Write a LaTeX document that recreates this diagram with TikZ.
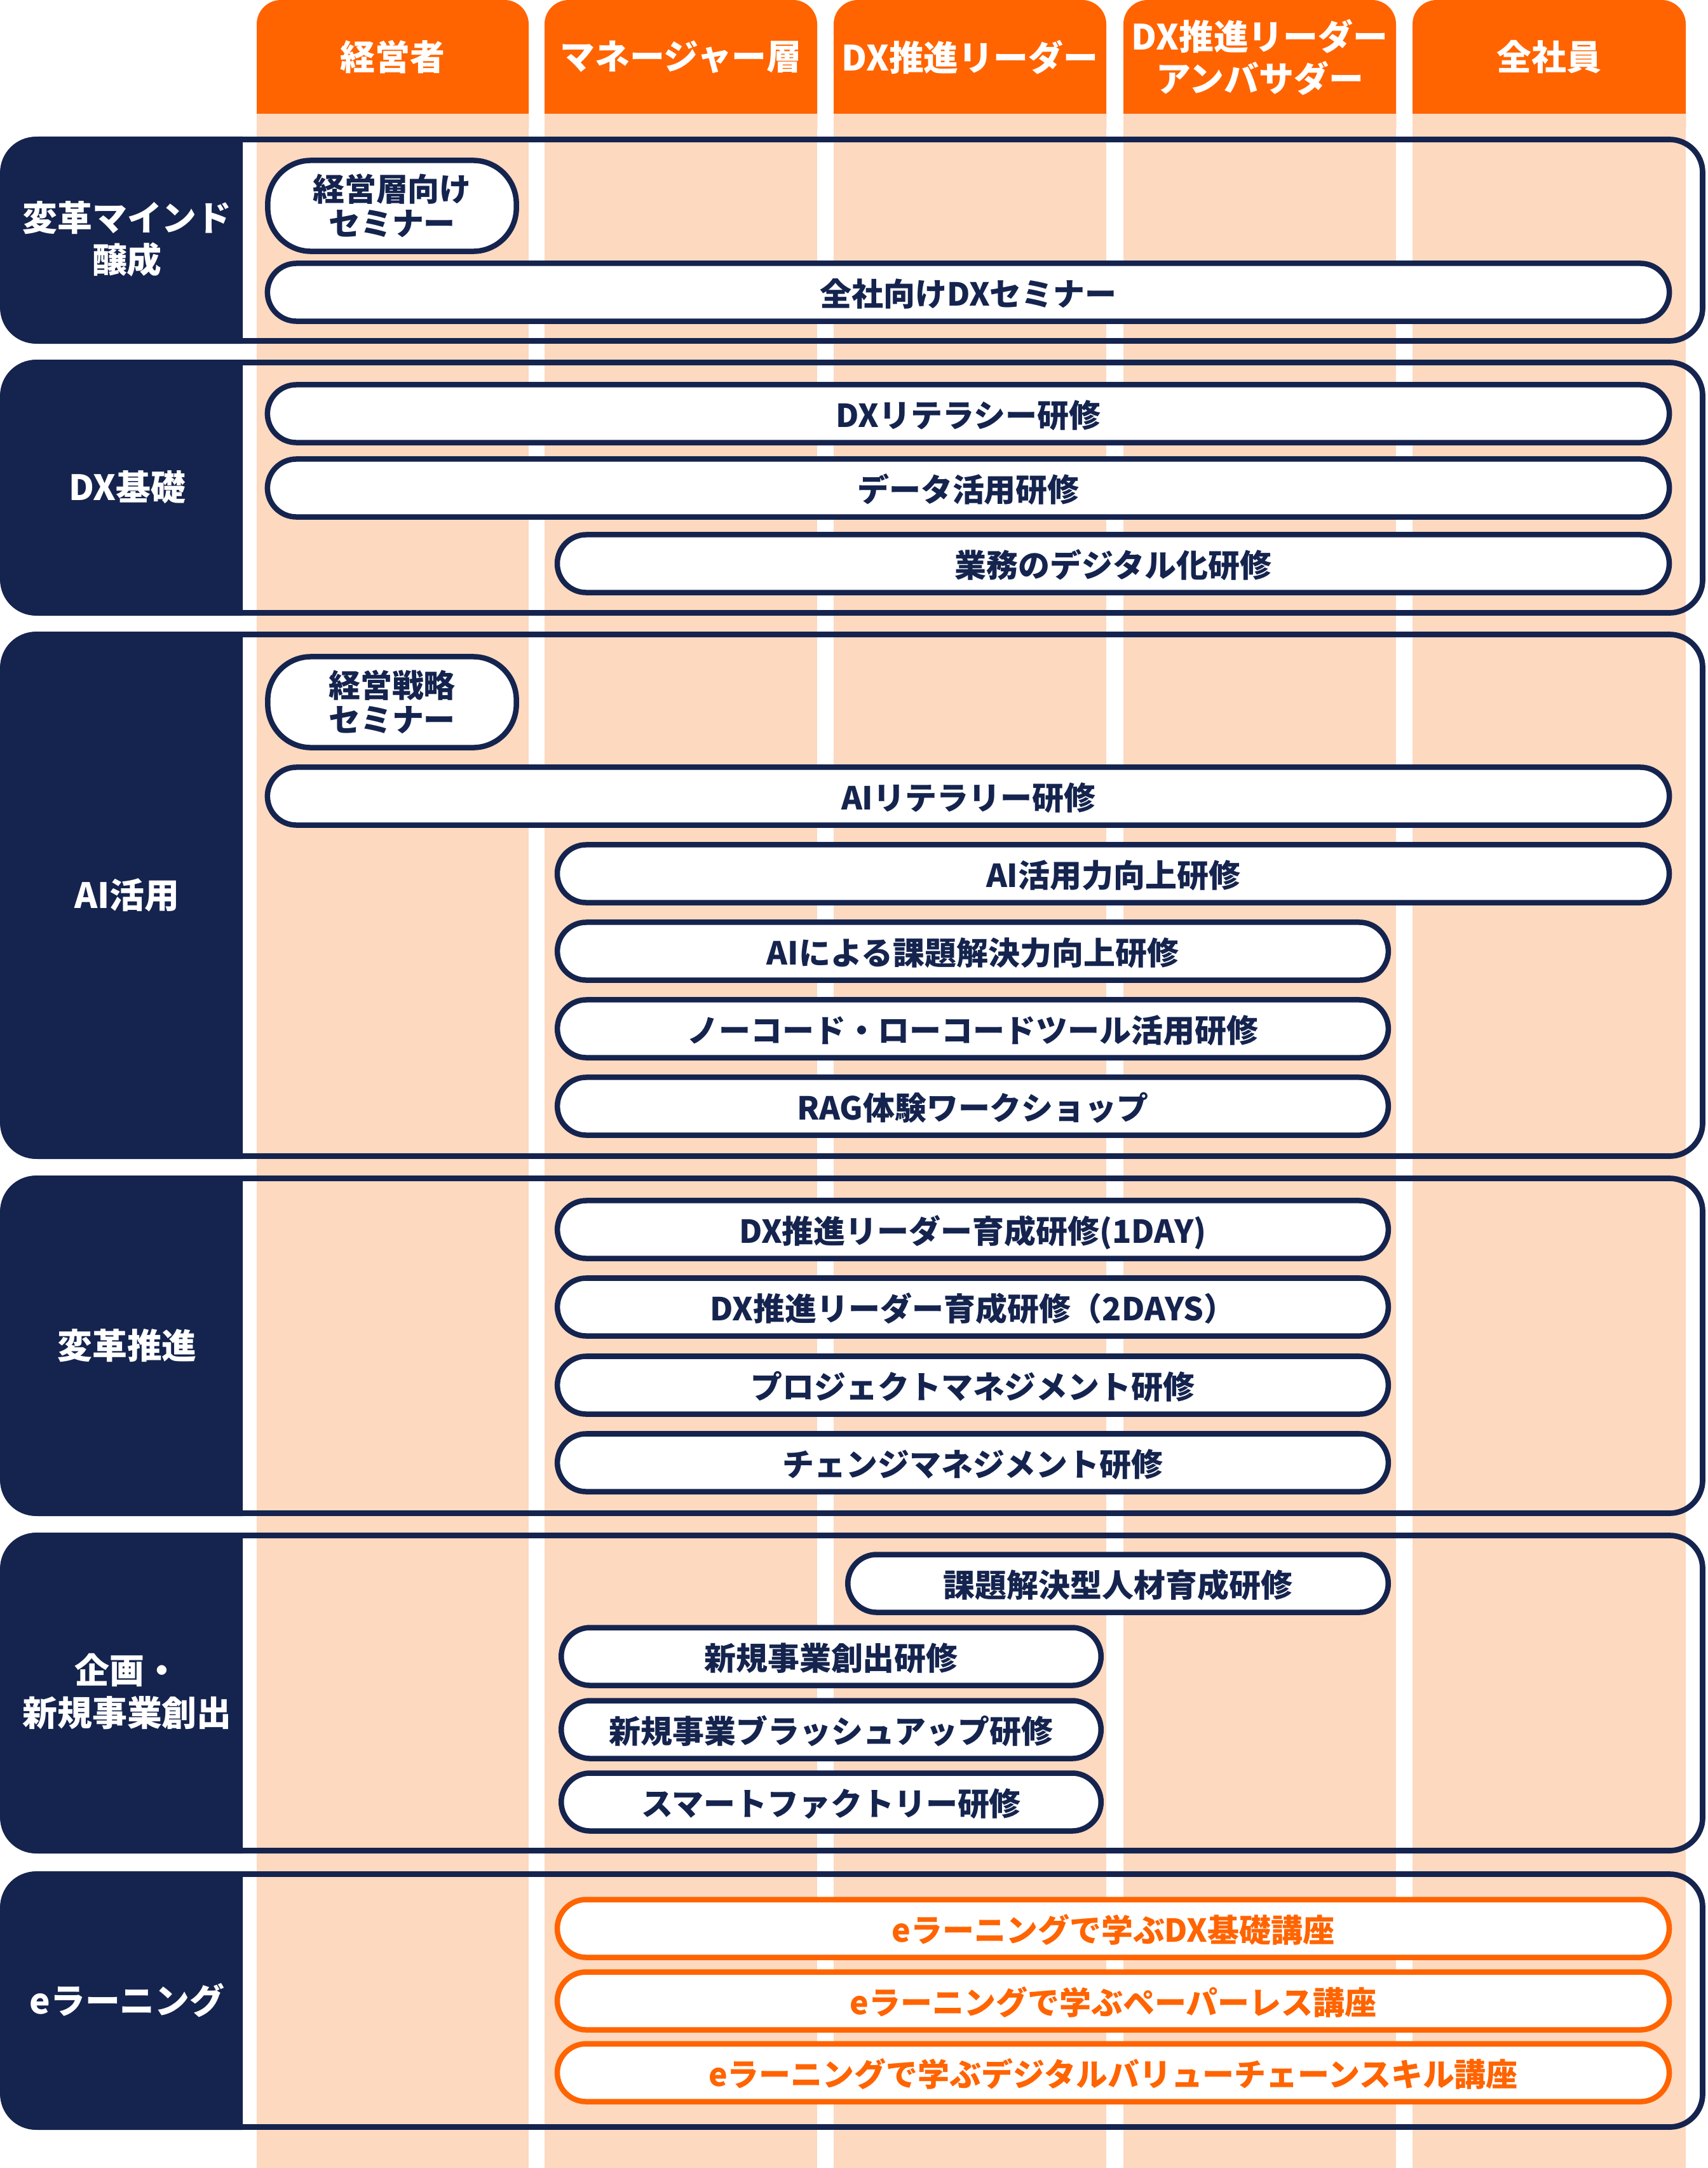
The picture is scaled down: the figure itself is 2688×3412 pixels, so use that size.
\documentclass[tikz,border=0pt]{standalone}
\usepackage{fontspec}
\setmainfont{Noto Sans CJK JP}
\definecolor{navy}{RGB}{21,36,78}
\definecolor{dxorange}{RGB}{255,100,0}
\definecolor{peach}{RGB}{253,217,192}
\begin{document}
\begin{tikzpicture}[x=0.01cm,y=-0.01cm,
  head/.style={text=white,font=\bfseries\fontsize{15.6}{18.8}\selectfont,align=center},
  rowlabel/.style={text=white,font=\bfseries\fontsize{15.6}{18.8}\selectfont,align=center},
  rowbox/.style={draw=navy,line width=0.087cm,rounded corners=0.52cm},
  pillbase/.style={draw=navy,line width=0.085cm,fill=white,rounded corners=0.455cm,minimum height=0.91cm,inner sep=0pt,text=navy,font=\bfseries\fontsize{14.2}{15.4}\selectfont,align=center},
  pill/.style={pillbase,text height=13.6pt,text depth=1.2pt},
  tallpill/.style={pillbase,minimum width=3.91cm,minimum height=1.43cm,rounded corners=0.68cm},
  epill/.style={pill,draw=dxorange,text=dxorange}]
\useasboundingbox (0,0) rectangle (2688,3412);
\fill[white] (0,0) rectangle (2688,3412);

% columns with their headers
\fill[dxorange,rounded corners=0.38cm] (404,0) rectangle (832,240);
\fill[dxorange,rounded corners=0.38cm] (857,0) rectangle (1286,240);
\fill[dxorange,rounded corners=0.38cm] (1312,0) rectangle (1741,240);
\fill[dxorange,rounded corners=0.38cm] (1768,0) rectangle (2197,240);
\fill[dxorange,rounded corners=0.38cm] (2223,0) rectangle (2653,240);
\fill[peach] (404,179) rectangle (832,3412);
\fill[peach] (857,179) rectangle (1286,3412);
\fill[peach] (1312,179) rectangle (1741,3412);
\fill[peach] (1768,179) rectangle (2197,3412);
\fill[peach] (2223,179) rectangle (2653,3412);
\node[head] (hexec) at (618,90) {経営者};
\node[head] (hmgr) at (1071.5,90) {マネージャー層};
\node[head] (hlead) at (1526.5,90) {DX推進リーダー};
\node[head] (hamb) at (1982.5,90) {DX推進リーダー\\アンバサダー};
\node[head] (hall) at (2438,90) {全社員};

% row label blocks
\begin{scope}
\clip (0,0) rectangle (382,3412);
\fill[navy,rounded corners=0.6cm] (0,215) rectangle (800,541);
\fill[navy,rounded corners=0.6cm] (0,566) rectangle (800,969);
\fill[navy,rounded corners=0.6cm] (0,994) rectangle (800,1824);
\fill[navy,rounded corners=0.6cm] (0,1850) rectangle (800,2386);
\fill[navy,rounded corners=0.6cm] (0,2412) rectangle (800,2917);
\fill[navy,rounded corners=0.6cm] (0,2945) rectangle (800,3352);
\end{scope}
\draw[rowbox] (4.5,219.5) rectangle (2679.5,536.5);
\draw[rowbox] (4.5,570.5) rectangle (2679.5,964.5);
\draw[rowbox] (4.5,998.5) rectangle (2679.5,1819.5);
\draw[rowbox] (4.5,1854.5) rectangle (2679.5,2381.5);
\draw[rowbox] (4.5,2416.5) rectangle (2679.5,2912.5);
\draw[rowbox] (4.5,2949.5) rectangle (2679.5,3347.5);
\node[rowlabel] (mind) at (200,376) {変革マインド\\醸成};
\node[rowlabel] (dxbase) at (200,767) {DX基礎};
\node[rowlabel] (aiuse) at (200,1409) {AI活用};
\node[rowlabel] (reform) at (200,2118) {変革推進};
\node[rowlabel] (newplan) at (200,2662) {企画・\\新規事業創出};
\node[rowlabel] (elearn) at (200,3148) {eラーニング};

% courses
\node[tallpill] (execsem) at (617,324) {経営層向け\\セミナー};
\node[pill,minimum width=22.05cm] (allsem) at (1524,460) {全社向けDXセミナー};

\node[pill,minimum width=22.05cm] (dxlit) at (1524,651) {DXリテラシー研修};
\node[pill,minimum width=22.05cm] (datause) at (1524,768) {データ活用研修};
\node[pill,minimum width=17.49cm] (digitize) at (1752,887) {業務のデジタル化研修};

\node[tallpill] (strategy) at (617,1105) {経営戦略\\セミナー};
\node[pill,minimum width=22.05cm] (ailit) at (1524,1253) {AIリテラリー研修};
\node[pill,minimum width=17.49cm] (aiskill) at (1752,1375) {AI活用力向上研修};
\node[pill,minimum width=13.07cm] (aisolve) at (1531,1497) {AIによる課題解決力向上研修};
\node[pill,minimum width=13.07cm] (nocode) at (1531,1619) {ノーコード・ローコードツール活用研修};
\node[pill,minimum width=13.07cm] (rag) at (1531,1741) {RAG体験ワークショップ};

\node[pill,minimum width=13.07cm] (lead1) at (1531,1935) {DX推進リーダー育成研修(1DAY)};
\node[pill,minimum width=13.07cm] (lead2) at (1531,2057) {DX推進リーダー育成研修（2DAYS）};
\node[pill,minimum width=13.07cm] (projmgmt) at (1531,2180) {プロジェクトマネジメント研修};
\node[pill,minimum width=13.07cm] (changemgmt) at (1531,2302) {チェンジマネジメント研修};

\node[pill,minimum width=8.50cm] (talent) at (1759.5,2492) {課題解決型人材育成研修};
\node[pill,minimum width=8.49cm] (newbiz) at (1308,2607) {新規事業創出研修};
\node[pill,minimum width=8.49cm] (brushup) at (1308,2722) {新規事業ブラッシュアップ研修};
\node[pill,minimum width=8.49cm] (factory) at (1308,2836) {スマートファクトリー研修};

\node[epill,minimum width=17.49cm] (elbase) at (1752,3035) {eラーニングで学ぶDX基礎講座};
\node[epill,minimum width=17.49cm] (elpaper) at (1752,3149) {eラーニングで学ぶペーパーレス講座};
\node[epill,minimum width=17.49cm] (elchain) at (1752,3262) {eラーニングで学ぶデジタルバリューチェーンスキル講座};
\end{tikzpicture}
\end{document}
